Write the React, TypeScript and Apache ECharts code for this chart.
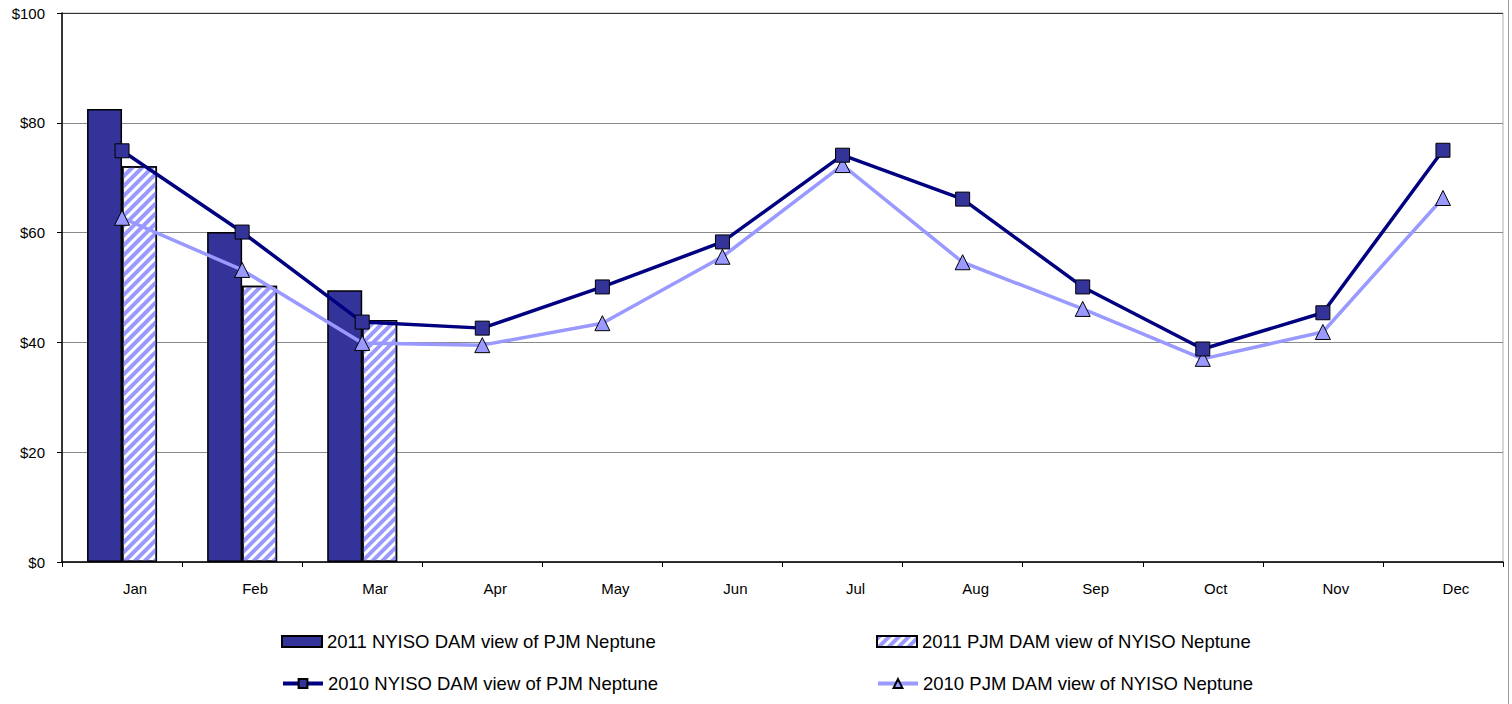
import React, { useEffect, useRef } from "react";
import * as echarts from "echarts";

const months = ["Jan", "Feb", "Mar", "Apr", "May", "Jun", "Jul", "Aug", "Sep", "Oct", "Nov", "Dec"];
const nyiso2011 = [82.5, 60.1, 49.5, null, null, null, null, null, null, null, null, null];
const pjm2011 = [72.1, 50.3, 44.1, null, null, null, null, null, null, null, null, null];
const nyiso2010 = [74.9, 60.1, 43.7, 42.6, 50.1, 58.3, 74.1, 66.1, 50.1, 38.8, 45.4, 75.0];
const pjm2010 = [62.7, 53.2, 39.9, 39.5, 43.5, 55.6, 72.3, 54.6, 46.1, 37.0, 41.9, 66.3];
const yTicks = [0, 20, 40, 60, 80, 100];

const names = [
  "2011 NYISO DAM view of PJM Neptune",
  "2011 PJM DAM view of NYISO Neptune",
  "2010 NYISO DAM view of PJM Neptune",
  "2010 PJM DAM view of NYISO Neptune",
];

const FONT = "'Liberation Sans', Arial, sans-serif";

export default function App() {
  const ref = useRef<HTMLDivElement>(null);
  useEffect(() => {
    if (!ref.current) return;
    const chart = echarts.init(ref.current, undefined, { renderer: "svg" });
    const legendBase = {
      orient: "horizontal",
      itemWidth: 40,
      itemHeight: 11,
      padding: 0,
      textStyle: { fontFamily: FONT, fontSize: 18.5, color: "#000" },
      selectedMode: false,
      lineStyle: { width: 4 },
    };
    chart.setOption({
      animation: false,
      backgroundColor: "#fff",
      textStyle: { fontFamily: FONT },
      grid: {
        left: 62,
        right: 9,
        top: 13,
        bottom: 142,
        show: true,
        borderColor: "#b0b0b0",
        borderWidth: 1,
      },
      legend: [
        { ...legendBase, data: [{ name: names[0], icon: "rect" }], left: 281, top: 632 },
        { ...legendBase, data: [{ name: names[1], icon: "rect" }], left: 876, top: 632 },
        { ...legendBase, data: [names[2]], left: 281, top: 674 },
        { ...legendBase, data: [names[3]], left: 876, top: 674 },
      ],
      xAxis: {
        type: "category",
        data: months,
        boundaryGap: true,
        axisLine: { lineStyle: { color: "#000", width: 1.5 } },
        axisTick: { show: true, inside: false, length: 5, lineStyle: { color: "#000" } },
        axisLabel: {
          fontFamily: FONT,
          fontSize: 15,
          color: "#000",
          margin: 19,
          padding: [0, 0, 0, 26],
        },
        splitLine: { show: false },
      },
      yAxis: {
        type: "value",
        min: 0,
        max: 100,
        interval: 20,
        axisLine: { show: true, lineStyle: { color: "#000", width: 1.5 } },
        axisTick: { show: true, inside: false, length: 5, lineStyle: { color: "#000" } },
        axisLabel: {
          fontFamily: FONT,
          fontSize: 15,
          color: "#000",
          margin: 17,
          formatter: (v: number) => (yTicks.includes(v) ? "$" + v : ""),
        },
        splitLine: {
          show: true,
          lineStyle: { color: ["#8a8a8a", "#8a8a8a", "#8a8a8a", "#8a8a8a", "#8a8a8a", "#333"], width: 1 },
        },
      },
      graphic: [
        {
          type: "line",
          shape: { x1: 1508.5, y1: 0, x2: 1508.5, y2: 704 },
          style: { stroke: "#999", lineWidth: 1 },
        },
      ],
      series: [
        {
          name: names[0],
          type: "bar",
          data: nyiso2011,
          barWidth: 35,
          barGap: "0%",
          itemStyle: { color: "#333399", borderColor: "#000", borderWidth: 1.5 },
          z: 2,
        },
        {
          name: names[1],
          type: "bar",
          data: pjm2011,
          barWidth: 35,
          barGap: "0%",
          itemStyle: {
            color: "#ffffff",
            borderColor: "#000",
            borderWidth: 1.5,
            decal: {
              symbol: "rect",
              symbolSize: 1,
              color: "#9999ff",
              dashArrayX: [1, 0],
              dashArrayY: [3.5, 2.5],
              rotation: -Math.PI / 4,
            },
          },
          z: 2,
        },
        {
          name: names[2],
          type: "line",
          data: nyiso2010,
          symbol: "rect",
          symbolSize: 14,
          lineStyle: { color: "#000080", width: 3.5 },
          itemStyle: { color: "#333399", borderColor: "#000", borderWidth: 1 },
          z: 4,
        },
        {
          name: names[3],
          type: "line",
          data: pjm2010,
          symbol: "triangle",
          symbolSize: 15,
          lineStyle: { color: "#9999ff", width: 3.5 },
          itemStyle: { color: "#9999ff", borderColor: "#000", borderWidth: 1 },
          z: 3,
        },
      ],
    });
    return () => chart.dispose();
  }, []);
  return (
    <div
      ref={ref}
      style={{ position: "absolute", left: 0, top: 0, width: 1512, height: 704 }}
    />
  );
}
